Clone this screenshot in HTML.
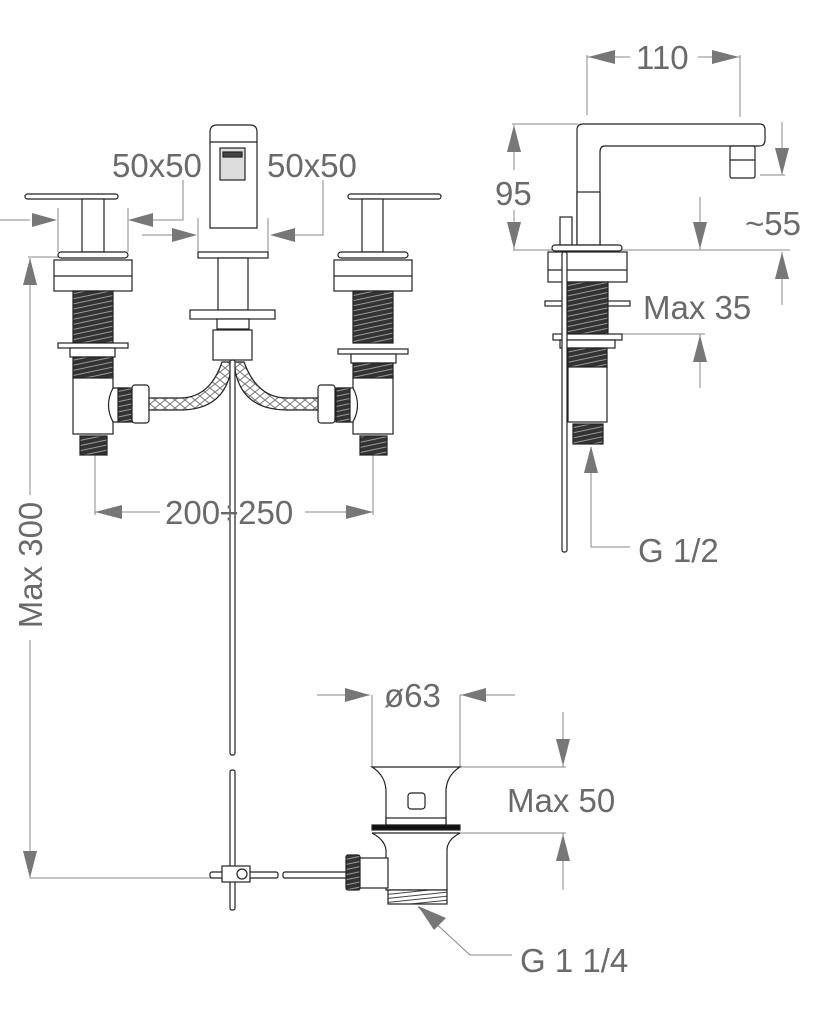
<!DOCTYPE html>
<html><head><meta charset="utf-8"><style>
html,body{margin:0;padding:0;background:#fff}
svg{display:block}
text{font-family:"Liberation Sans",sans-serif;fill:#6a6a6a;font-size:33px}
</style></head><body>
<svg width="819" height="1024" viewBox="0 0 819 1024" xmlns="http://www.w3.org/2000/svg">
<defs>
<pattern id="thr" width="8" height="5" patternUnits="userSpaceOnUse" patternTransform="rotate(-12)">
<rect width="8" height="5" fill="#333"/><line x1="0" y1="2.5" x2="8" y2="2.5" stroke="#999" stroke-width="1"/>
</pattern>
<pattern id="thr2" width="10" height="4" patternUnits="userSpaceOnUse" patternTransform="rotate(-6)">
<rect width="10" height="4" fill="#fff"/><line x1="0" y1="2" x2="10" y2="2" stroke="#444" stroke-width="1"/>
</pattern>
<pattern id="braid" width="10" height="8" patternUnits="userSpaceOnUse">
<rect width="10" height="8" fill="#fff"/><path d="M0 4 L5 0 M5 8 L10 4 M0 4 L5 8 M5 0 L10 4" stroke="#777" stroke-width="1" fill="none"/>
</pattern>
</defs>
<g stroke="#888" stroke-width="1" fill="none">
<line x1="0" y1="220" x2="30" y2="220"/><line x1="58" y1="208" x2="58" y2="252"/><line x1="128" y1="208" x2="128" y2="252"/>
<polyline points="150,220 183,220 183,180"/>
<line x1="142" y1="235" x2="172" y2="235"/><line x1="198" y1="218" x2="198" y2="252"/><line x1="268" y1="218" x2="268" y2="252"/>
<polyline points="295,235 323,235 323,180"/>
<line x1="30" y1="258" x2="30" y2="495"/><line x1="30" y1="640" x2="30" y2="878"/>
<line x1="28" y1="257" x2="60" y2="257"/><line x1="30" y1="878" x2="215" y2="878"/>
<line x1="95" y1="455" x2="95" y2="515"/><line x1="373" y1="455" x2="373" y2="515"/>
<line x1="95" y1="512" x2="160" y2="512"/><line x1="305" y1="512" x2="373" y2="512"/>
<line x1="587" y1="55" x2="587" y2="115"/><line x1="740" y1="55" x2="740" y2="117"/>
<line x1="587" y1="57" x2="630" y2="57"/><line x1="698" y1="57" x2="740" y2="57"/>
<line x1="512" y1="124" x2="578" y2="124"/><line x1="513" y1="250" x2="790" y2="250"/>
<line x1="514" y1="125" x2="514" y2="170"/><line x1="514" y1="210" x2="514" y2="250"/>
<line x1="760" y1="175" x2="785" y2="175"/><line x1="782" y1="122" x2="782" y2="175"/>
<line x1="700" y1="197" x2="700" y2="250"/>
<line x1="782" y1="252" x2="782" y2="305"/>
<line x1="622" y1="334" x2="705" y2="334"/><line x1="700" y1="334" x2="700" y2="388"/>
<polyline points="591,447 591,547 630,547"/>
<line x1="317" y1="695" x2="370" y2="695"/><line x1="460" y1="695" x2="515" y2="695"/>
<line x1="372" y1="695" x2="372" y2="767"/><line x1="460" y1="695" x2="460" y2="767"/>
<line x1="563" y1="712" x2="563" y2="767"/><line x1="460" y1="767" x2="566" y2="767"/>
<line x1="447" y1="833" x2="566" y2="833"/><line x1="563" y1="833" x2="563" y2="890"/>
<polyline points="418,907 470,955 512,955"/>
</g>
<g fill="#777">
<polygon points="57,220 32,213 32,227"/>
<polygon points="128,220 153,213 153,227"/>
<polygon points="197,235 172,228 172,242"/>
<polygon points="270,235 295,228 295,242"/>
<polygon points="30,258 23,285 37,285"/>
<polygon points="30,878 23,851 37,851"/>
<polygon points="95,512 122,505 122,519"/>
<polygon points="373,512 346,505 346,519"/>
<polygon points="588,57 615,50 615,64"/>
<polygon points="739,57 712,50 712,64"/>
<polygon points="514,125 507,152 521,152"/>
<polygon points="514,249 507,222 521,222"/>
<polygon points="782,175 775,148 789,148"/>
<polygon points="700,249 693,222 707,222"/>
<polygon points="782,252 775,279 789,279"/>
<polygon points="700,335 693,362 707,362"/>
<polygon points="591,446 584,473 598,473"/>
<polygon points="370,695 345,688 345,702"/>
<polygon points="461,695 486,688 486,702"/>
<polygon points="563,766 556,739 570,739"/>
<polygon points="563,834 556,861 570,861"/>
<polygon points="418,906 446,918 434,930"/>
</g>
<g stroke="#222" stroke-width="1.2" fill="#fff">
<rect x="25" y="194" width="93" height="5" rx="2.5"/>
<rect x="82" y="199" width="22" height="53"/>
<rect x="58" y="252" width="70" height="6" rx="3"/>
<rect x="54" y="260" width="78" height="31"/><line x1="54" y1="276" x2="132" y2="276"/>
<rect x="73" y="291" width="40" height="52" fill="url(#thr)"/>
<rect x="58" y="343" width="70" height="5"/>
<rect x="70" y="348" width="45" height="9"/>
<rect x="73" y="357" width="40" height="21" fill="url(#thr)"/>
<rect x="73" y="378" width="40" height="56"/>
<path d="M113 388 Q104 405 113 422 L128 422 L128 388 Z"/>
<rect x="118" y="388" width="14" height="34" fill="url(#thr)"/>
<rect x="132" y="385" width="17" height="38" rx="3"/>
<rect x="80" y="436" width="27" height="19" fill="url(#thr)"/>
<rect x="348" y="194" width="93" height="5" rx="2.5"/>
<rect x="362" y="199" width="21" height="53"/>
<rect x="338" y="252" width="70" height="6" rx="3"/>
<rect x="334" y="260" width="78" height="31"/><line x1="334" y1="276" x2="412" y2="276"/>
<rect x="353" y="291" width="40" height="52" fill="url(#thr)"/>
<rect x="338" y="349" width="70" height="5"/>
<rect x="351" y="354" width="45" height="9"/>
<rect x="353" y="363" width="40" height="15" fill="url(#thr)"/>
<rect x="353" y="378" width="40" height="56"/>
<path d="M353 388 Q362 405 353 422 L338 422 L338 388 Z"/>
<rect x="336" y="388" width="14" height="34" fill="url(#thr)"/>
<rect x="318" y="385" width="17" height="38" rx="3"/>
<rect x="360" y="436" width="27" height="19" fill="url(#thr)"/>
<path d="M149 398 L180 398 Q210 398 222 362 L232 362 Q228 410 180 410 L149 410 Z" fill="url(#braid)"/>
<path d="M318 398 L287 398 Q257 398 244 362 L234 362 Q238 410 287 410 L318 410 Z" fill="url(#braid)"/>
<path d="M210 228 L210 132 Q210 125 217 125 L250 125 Q257 125 257 132 L257 228 Z"/>
<line x1="210" y1="142" x2="257" y2="142"/>
<rect x="220" y="148" width="25" height="32" fill="#ddd"/>
<rect x="223" y="152" width="19" height="5" fill="#444"/>
<rect x="198" y="252" width="70" height="6"/>
<rect x="218" y="258" width="30" height="52"/>
<rect x="190" y="310" width="85" height="9"/>
<rect x="217" y="319" width="32" height="10"/>
<rect x="213" y="330" width="39" height="30"/>
<rect x="230" y="360" width="5" height="395" rx="2"/>
<rect x="230" y="770" width="5" height="140" rx="2"/>
<rect x="210" y="872" width="68" height="6" rx="2"/>
<rect x="222" y="866" width="28" height="16"/>
<circle cx="242" cy="874" r="5"/>
<rect x="283" y="872" width="65" height="6" rx="2"/>
</g>
<g stroke="#222" stroke-width="1.2" fill="#fff">
<path d="M577 245 L577 130 Q577 124 583 124 L760 124 Q765 124 765 130 L765 140 Q765 146 759 146 L605 146 Q600 146 600 152 L600 245 Z"/>
<rect x="577" y="192" width="23" height="53"/>
<rect x="730" y="146" width="25" height="32" rx="2"/>
<line x1="730" y1="160" x2="755" y2="160"/>
<rect x="560" y="217" width="12" height="28"/>
<rect x="552" y="245" width="70" height="6" rx="3"/>
<rect x="548" y="252" width="79" height="30"/><line x1="548" y1="270" x2="627" y2="270"/>
<rect x="545" y="301" width="85" height="5"/>
<rect x="567" y="282" width="41" height="52" fill="url(#thr)"/>
<rect x="553" y="334" width="69" height="6"/>
<rect x="560" y="340" width="55" height="8"/>
<rect x="568" y="348" width="39" height="19" fill="url(#thr)"/>
<rect x="568" y="367" width="39" height="55"/>
<rect x="573" y="424" width="30" height="20" fill="url(#thr)"/>
<rect x="562" y="252" width="5" height="300" rx="2"/>
</g>
<g stroke="#222" stroke-width="1.2" fill="#fff">
<path d="M372 767 L460 767 Q447 775 446 790 L446 825 L386 825 L386 790 Q385 775 372 767 Z"/>
<rect x="408" y="793" width="17" height="16" rx="3"/>
<rect x="386" y="818" width="60" height="7"/>
<rect x="372" y="825" width="88" height="5" fill="#111"/>
<path d="M372 833 L460 833 Q447 840 447 850 L447 890 L386 890 L386 850 Q385 840 372 833 Z"/>
<rect x="356" y="858" width="32" height="30"/>
<rect x="346" y="855" width="14" height="35" rx="2" fill="url(#thr)"/>
<rect x="388" y="890" width="59" height="14" fill="url(#thr2)"/>
</g>
<text x="112" y="177">50x50</text>
<text x="267" y="177">50x50</text>
<text x="165" y="524">200÷250</text>
<text transform="translate(42,565) rotate(-90)" text-anchor="middle">Max 300</text>
<text x="636" y="69">110</text>
<text x="495" y="205">95</text>
<text x="745" y="235">~55</text>
<text x="643" y="319">Max 35</text>
<text x="638" y="562">G 1/2</text>
<text x="384" y="707">ø63</text>
<text x="507" y="812">Max 50</text>
<text x="520" y="972">G 1 1/4</text>
</svg>
</body></html>
